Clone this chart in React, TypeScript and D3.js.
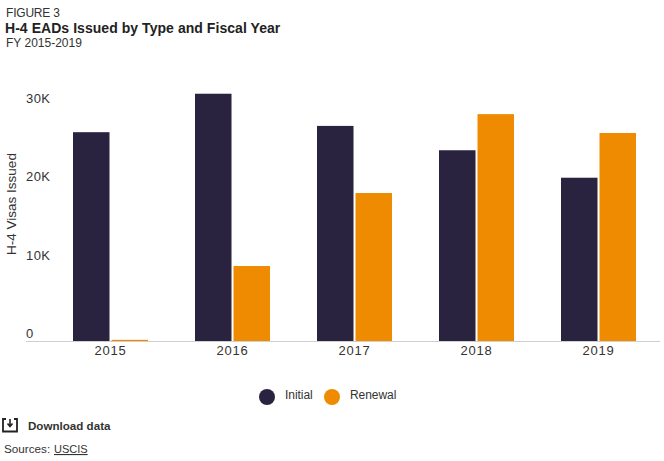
import { useEffect, useRef } from "react";
import * as d3 from "d3";

const years = ["2015", "2016", "2017", "2018", "2019"];
const series = ["Initial", "Renewal"];
const initial = [26600, 31500, 27400, 24300, 20800];
const renewal = [150, 9550, 18850, 28900, 26500];
const yTicks = [0, 10000, 20000, 30000];
const colors = ["#29233f", "#ee8b00"];
const font = "'Liberation Sans', Arial, sans-serif";

export default function App() {
  const ref = useRef<SVGSVGElement | null>(null);

  useEffect(() => {
    if (!ref.current) return;
    const width = 664;
    const height = 461;

    const svg = d3.select(ref.current)
      .attr("width", width)
      .attr("height", height)
      .style("position", "absolute")
      .style("left", 0)
      .style("top", 0)
      .style("font-family", font);

    svg.selectAll("*").remove();

    const x = d3.scaleBand<string>().domain(years).range([49.5, 659.5]);
    const y = d3.scaleLinear().domain([0, 30000]).range([341, 105.5]);
    const barW = 36.5;

    // bars
    const drawBars = (vals: number[], offset: number, color: string) => {
      svg.append("g")
        .selectAll("rect")
        .data(vals)
        .join("rect")
        .attr("x", (_, i) => x(years[i])! + x.bandwidth() / 2 + offset)
        .attr("y", d => y(d))
        .attr("width", barW)
        .attr("height", d => y(0) - y(d))
        .attr("fill", color);
    };
    drawBars(initial, -37.5, colors[0]);
    drawBars(renewal, 1, colors[1]);

    // axes
    svg.append("line")
      .attr("x1", 26).attr("x2", 660)
      .attr("y1", 341.5).attr("y2", 341.5)
      .attr("stroke", "#cfcfcf");

    svg.append("g")
      .selectAll("text")
      .data(years)
      .join("text")
      .attr("x", d => x(d)! + x.bandwidth() / 2)
      .attr("y", 355)
      .attr("text-anchor", "middle")
      .attr("font-size", 13)
      .attr("letter-spacing", 0.8)
      .attr("fill", "#333")
      .text(d => d);

    svg.append("g")
      .selectAll("text")
      .data(yTicks)
      .join("text")
      .attr("x", 26)
      .attr("y", d => y(d) - 3)
      .attr("font-size", 13)
      .attr("letter-spacing", 0.4)
      .attr("fill", "#333")
      .text(d => (d === 0 ? "0" : `${d / 1000}K`));

    svg.append("text")
      .attr("transform", "translate(16,204) rotate(-90)")
      .attr("text-anchor", "middle")
      .attr("font-size", 13.5)
      .attr("fill", "#333")
      .text("H-4 Visas Issued");

    // titles
    svg.append("text").attr("x", 6).attr("y", 17).attr("font-size", 12).attr("letter-spacing", -0.2).attr("fill", "#333").text("FIGURE 3");
    svg.append("text").attr("x", 5).attr("y", 33).attr("font-size", 14).attr("font-weight", 700).attr("letter-spacing", 0.05).attr("fill", "#222").text("H-4 EADs Issued by Type and Fiscal Year");
    svg.append("text").attr("x", 6).attr("y", 47).attr("font-size", 12).attr("fill", "#333").text("FY 2015-2019");

    // legend
    const legendX = [267, 332];
    series.forEach((s, i) => {
      svg.append("circle").attr("cx", legendX[i]).attr("cy", 397).attr("r", 8).attr("fill", colors[i]);
      svg.append("text").attr("x", legendX[i] + 18).attr("y", 399).attr("font-size", 12).attr("letter-spacing", -0.05).attr("fill", "#333").text(s);
    });

    // download icon + footer
    svg.append("path")
      .attr("d", "M6 419 H3 V431.5 H17 V419 H14")
      .attr("fill", "none")
      .attr("stroke", "#222")
      .attr("stroke-width", 1.8);
    svg.append("path")
      .attr("d", "M10 419 V425 M7.5 423.5 L10 426.5 L12.5 423.5")
      .attr("fill", "none")
      .attr("stroke", "#222")
      .attr("stroke-width", 1.6);
    svg.append("text").attr("x", 28).attr("y", 430).attr("font-size", 11.6).attr("font-weight", 700).attr("fill", "#333").text("Download data");
    svg.append("text").attr("x", 4).attr("y", 453).attr("font-size", 11.7).attr("fill", "#333").text("Sources: ");
    svg.append("text").attr("x", 54).attr("y", 453).attr("font-size", 11).attr("fill", "#333").attr("text-decoration", "underline").text("USCIS");
  }, []);

  return <svg ref={ref}></svg>;
}
